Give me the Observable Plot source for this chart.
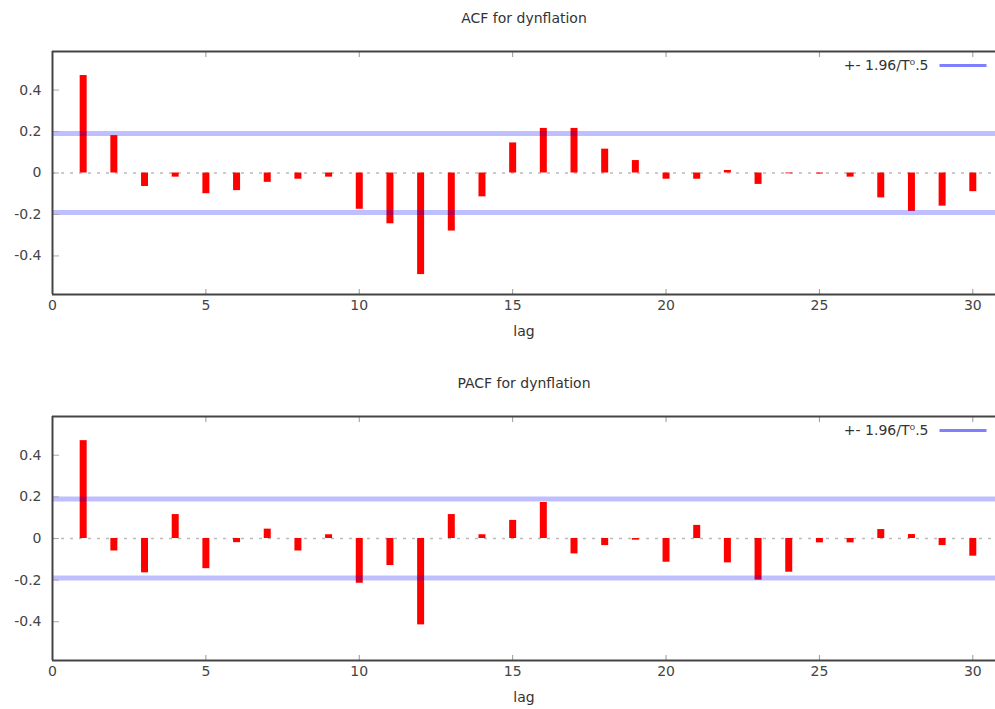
<!DOCTYPE html>
<html><head><meta charset="utf-8">
<script src="https://cdn.jsdelivr.net/npm/d3@7"></script>
<script src="https://cdn.jsdelivr.net/npm/@observablehq/plot@0.6"></script>
<style>body{margin:0;background:#fff} svg{display:block}</style>
</head><body><div id="c"></div>
<script>
const lags = [1,2,3,4,5,6,7,8,9,10,11,12,13,14,15,16,17,18,19,20,21,22,23,24,25,26,27,28,29,30];
const acfValues = [0.47, 0.18, -0.065, -0.02, -0.10, -0.085, -0.045, -0.03, -0.02, -0.175, -0.245, -0.49, -0.28, -0.115, 0.145, 0.215, 0.215, 0.115, 0.06, -0.03, -0.03, 0.012, -0.055, -0.004, -0.005, -0.02, -0.12, -0.185, -0.16, -0.09];
const pacfValues = [0.47, -0.06, -0.165, 0.115, -0.145, -0.02, 0.045, -0.06, 0.018, -0.215, -0.13, -0.415, 0.115, 0.018, 0.087, 0.173, -0.074, -0.034, -0.008, -0.114, 0.063, -0.117, -0.2, -0.162, -0.021, -0.021, 0.043, 0.019, -0.034, -0.085];
const bandValue = 0.19;
const xTicks = [0, 5, 10, 15, 20, 25, 30];
const yTicks = [-0.4, -0.2, 0, 0.2, 0.4];
const titles = ["ACF for dynflation", "PACF for dynflation"];
const xLabel = "lag";
const legendLabel = "+- 1.96/T\u2070.5";

const xDomain = [0, 30.74];
const yDomain = [-0.586, 0.586];

const lineSymbol = {draw(ctx) { ctx.moveTo(-23.5, 0); ctx.lineTo(23.5, 0); }};

function panel(title, values, height, marginBottom) {
  const data = lags.map((lag, i) => ({lag, value: values[i]}));
  return Plot.plot({
    width: 995, height, marginTop: 51, marginBottom, marginLeft: 52, marginRight: 0,
    style: {fontFamily: "DejaVu Sans", fontSize: "14px", color: "#333", background: "white", overflow: "visible"},
    x: {domain: xDomain},
    y: {domain: yDomain},
    marks: [
      Plot.ruleY([0], {stroke: "#bbb", strokeWidth: 1.5, strokeDasharray: "3,6"}),
      Plot.ruleX(data, {x: "lag", y1: 0, y2: "value", stroke: "#ff0000", strokeWidth: 7}),
      Plot.ruleY([-bandValue, bandValue], {stroke: "#0000ff", strokeOpacity: 0.25, strokeWidth: 5}),
      Plot.axisX(xTicks, {anchor: "bottom", tickSize: -5, tickFormat: () => "", stroke: "#999", label: null}),
      Plot.axisX(xTicks, {anchor: "top", tickSize: -5, tickFormat: () => "", stroke: "#999", label: null}),
      Plot.axisY(yTicks, {anchor: "left", tickSize: -7, tickFormat: () => "", stroke: "#aaa", label: null}),
      Plot.axisX(xTicks, {anchor: "bottom", tickSize: 0, tickPadding: 6, tickFormat: d => String(d), fill: "#444", label: null}),
      Plot.axisY(yTicks, {anchor: "left", tickSize: 0, tickPadding: 11, tickFormat: d => String(d), fill: "#444", label: null}),
      Plot.ruleY([yDomain[0], yDomain[1]], {stroke: "#444", strokeWidth: 2}),
      Plot.ruleX([xDomain[0]], {stroke: "#444", strokeWidth: 2}),
      Plot.text([title], {text: d => d, frameAnchor: "top", dy: -33, lineAnchor: "middle", fill: "#333"}),
      Plot.text([xLabel], {text: d => d, frameAnchor: "bottom", dy: 37, lineAnchor: "middle", fill: "#333"}),
      Plot.text([legendLabel], {text: d => d, frameAnchor: "top-right", dx: -67, dy: 14, textAnchor: "end", lineAnchor: "middle", fill: "#333"}),
      Plot.dot([legendLabel], {frameAnchor: "top-right", dx: -32.5, dy: 14, symbol: lineSymbol, stroke: "#8080ff", strokeWidth: 3, fill: "none"})
    ]
  });
}

const c = document.getElementById("c");
c.append(panel(titles[0], acfValues, 365, 71));
c.append(panel(titles[1], pacfValues, 344, 49));
</script>
</body></html>
